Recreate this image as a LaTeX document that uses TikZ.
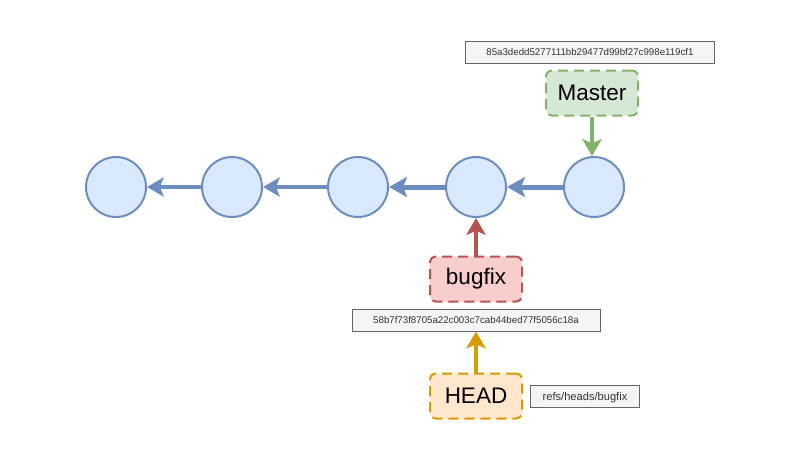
\documentclass[tikz,border=0pt]{standalone}
\usepackage{fontspec}
\setmainfont{Liberation Sans}
\usetikzlibrary{arrows.meta}
\definecolor{commitfill}{HTML}{DAE8FC}
\definecolor{commitline}{HTML}{6C8EBF}
\definecolor{masterfill}{HTML}{D5E8D4}
\definecolor{masterline}{HTML}{82B366}
\definecolor{bugfill}{HTML}{F8CECC}
\definecolor{bugline}{HTML}{B85450}
\definecolor{headfill}{HTML}{FFE6CC}
\definecolor{headline}{HTML}{D79B00}
\definecolor{hashfill}{HTML}{F5F5F5}
\definecolor{hashline}{HTML}{666666}
\def\U{0.025cm}
\tikzset{
	commit/.style={circle,draw=commitline,fill=commitfill,line width=2*\U,minimum size=60*\U,inner sep=0pt},
	refbox/.style={rounded corners=6*\U,line width=2*\U,dash pattern=on 10*\U off 6*\U,minimum width=92*\U,minimum height=45*\U,inner sep=0pt,font=\fontsize{16}{18}\selectfont},
	hashbox/.style={draw=hashline,fill=hashfill,text=black!80,line width=1*\U,minimum height=22*\U,inner sep=0pt,text height=6pt,text depth=1pt,font=\fontsize{6.9}{8}\selectfont},
	link/.style={-{Stealth[length=0.42cm,width=0.48cm,inset=0.1cm]},line width=4*\U},
	biglink/.style={-{Stealth[length=0.45cm,width=0.5cm,inset=0.1cm]},line width=5*\U},
}
\begin{document}
\begin{tikzpicture}[x=\U,y=-\U]
	\useasboundingbox (0,0) rectangle (800,450);
	\pgfmathsetmacro\YC{187}
	\node[commit] (c1) at (116,\YC) {};
	\node[commit] (c2) at (232,\YC) {};
	\node[commit] (c3) at (358,\YC) {};
	\node[commit] (c4) at (476,\YC) {};
	\node[commit] (c5) at (594,\YC) {};
	
	\node[hashbox,minimum width=249*\U] (hashM) at (590,52) {85a3dedd5277111bb29477d99bf27c998e119cf1};
	\node[refbox,draw=masterline,fill=masterfill] (master) at (592,93) {Master};
	\node[refbox,draw=bugline,fill=bugfill] (bugfix) at (476,279) {bugfix};
	\node[hashbox,minimum width=248*\U] (hashB) at (476,320) {58b7f73f8705a22c003c7cab44bed77f5056c18a};
	\node[refbox,draw=headline,fill=headfill] (head) at (476,396) {HEAD};
	\node[hashbox,minimum width=109*\U,text height=7pt,text depth=1.3pt,font=\fontsize{7.9}{9}\selectfont] (refs) at (585,396) {refs/heads/bugfix};
	
	\draw[biglink,draw=commitline,fill=commitline] (c5) -- (c4);
	\draw[biglink,draw=commitline,fill=commitline] (c4) -- (c3);
	\draw[link,draw=commitline,fill=commitline] (c3) -- (c2);
	\draw[link,draw=commitline,fill=commitline] (c2) -- (c1);
	\draw[link,draw=masterline,fill=masterline] (master) -- (master|-c5.north);
	\draw[link,draw=bugline,fill=bugline] (bugfix) -- (c4);
	\draw[link,draw=headline,fill=headline] (head) -- (hashB);
\end{tikzpicture}
\end{document}
